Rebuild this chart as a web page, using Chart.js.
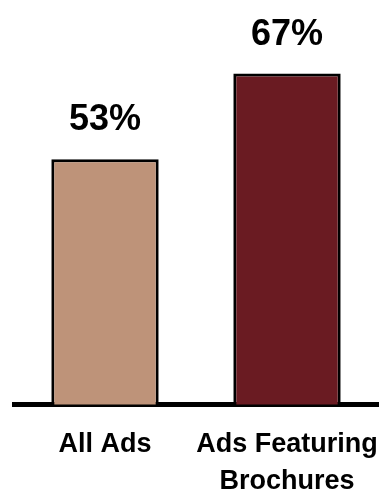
<!DOCTYPE html>
<html>
<head>
<meta charset="utf-8">
<script src="https://cdn.jsdelivr.net/npm/chart.js@4"></script>
<style>
  html, body { margin: 0; padding: 0; background: #fff; }
  #wrap { width: 386px; height: 489px; position: relative; }
</style>
</head>
<body>
<div id="wrap"><canvas id="adsChart"></canvas></div>
<script>
// chart data
const categories = ['All Ads', ['Ads Featuring', 'Brochures']];
const percentValues = [53, 67];
const barColors = ['#BE9379', '#6A1B22'];

const fontFamily = "'Liberation Sans', Arial, Helvetica, sans-serif";

// draws the "53%" style labels above each bar
const valueLabels = {
    id: 'valueLabels',
    afterDatasetsDraw(chart) {
        const ctx = chart.ctx;
        const meta = chart.getDatasetMeta(0);
        ctx.save();
        ctx.font = 'bold 36px ' + fontFamily;
        ctx.fillStyle = '#000';
        ctx.textAlign = 'center';
        ctx.textBaseline = 'alphabetic';
        meta.data.forEach(function(bar, i) {
            ctx.fillText(percentValues[i] + '%', bar.x, bar.y - 29);
        });
        ctx.restore();
    }
};

const ctx = document.getElementById('adsChart');
const myChart = new Chart(ctx, {
    type: 'bar',
    data: {
        labels: categories,
        datasets: [{
            data: percentValues,
            backgroundColor: barColors,
            borderColor: '#000',
            borderWidth: 3,
            barPercentage: 0.59,
            categoryPercentage: 1
        }]
    },
    options: {
        responsive: true,
        maintainAspectRatio: false,
        devicePixelRatio: 1,
        animation: false,
        layout: {
            padding: { left: 14, right: 8, top: 0, bottom: 0 }
        },
        plugins: {
            legend: { display: false },
            tooltip: { enabled: false }
        },
        scales: {
            x: {
                z: 1,
                grid: { display: false, drawTicks: false },
                border: { display: true, color: '#000', width: 5 },
                ticks: {
                    color: '#000',
                    padding: 21,
                    autoSkip: false,
                    maxRotation: 0,
                    minRotation: 0,
                    font: { family: fontFamily, size: 27, weight: 'bold', lineHeight: 1.38 }
                },
                afterFit: function(scale) {
                    // keep the axis full width, labels may overhang
                    scale.height = 84.5;
                    scale.paddingLeft = 0;
                    scale.paddingRight = 0;
                }
            },
            y: {
                display: false,
                min: 13,
                max: 79
            }
        }
    },
    plugins: [valueLabels]
});
</script>
</body>
</html>
